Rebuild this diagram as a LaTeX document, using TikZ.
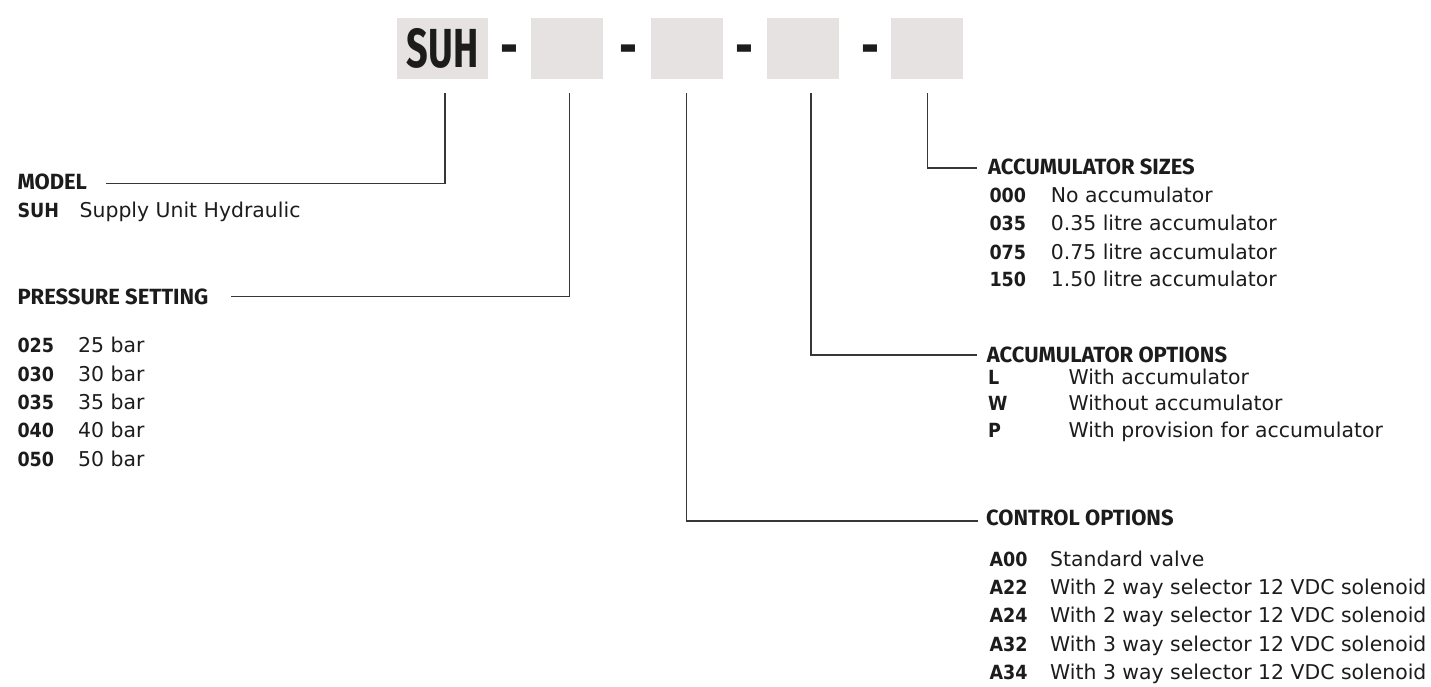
\documentclass[tikz,border=0pt]{standalone}
\usepackage{fontspec}
\setmainfont{DejaVu Sans}
\newfontfamily\codefont{DejaVu Sans Condensed}
\newfontfamily\headfont{Fira Sans}
\definecolor{boxc}{RGB}{229,226,225}
\definecolor{txt}{RGB}{28,28,28}
\definecolor{linec}{RGB}{55,55,55}
\tikzset{
  conn/.style={draw=linec, line width=1.5pt},
  head/.style={anchor=base west, inner sep=0pt, text=txt, font=\headfont\bfseries\fontsize{22}{26}\selectfont},
  code/.style={anchor=base west, inner sep=0pt, text=txt, font=\codefont\bfseries\fontsize{19.5}{24}\selectfont},
  desc/.style={anchor=base west, inner sep=0pt, text=txt, font=\fontsize{20.4}{24}\selectfont},
  slot/.style={fill=boxc, draw=none, anchor=north west, inner sep=0pt, minimum height=61pt, minimum width=72pt},
  title/.style={anchor=base, inner sep=0pt, text=txt, font=\headfont\bfseries\fontsize{55}{60}\selectfont},
}
\begin{document}
\begin{tikzpicture}[x=1pt,y=-1pt]
\useasboundingbox (0,0) rectangle (1431,686);
% code boxes
\node[slot, minimum width=91pt] (b1) at (397,18) {};
\node[slot] (b2) at (530.6,18) {};
\node[slot] (b3) at (650.5,18) {};
\node[slot] (b4) at (766.3,18) {};
\node[slot] (b5) at (891.2,18) {};
\node[title] (suh) at (442.5,67.6) {\scalebox{0.69}[1]{SUH}};
\node[title] (d1) at (509,67.6) {\scalebox{0.8}[1.1]{-}};
\node[title] (d2) at (628,67.6) {\scalebox{0.8}[1.1]{-}};
\node[title] (d3) at (744,67.6) {\scalebox{0.8}[1.1]{-}};
\node[title] (d4) at (870,67.6) {\scalebox{0.8}[1.1]{-}};
% connector coordinates
\coordinate (s1) at (445,93);
\coordinate (s2) at (569.5,93);
\coordinate (s3) at (686.5,93);
\coordinate (s4) at (811,93);
\coordinate (s5) at (927.5,93);
\coordinate (e1) at (106,183.3);
\coordinate (e2) at (230.7,296.7);
\coordinate (e3) at (977.7,521);
\coordinate (e4) at (977,355);
\coordinate (e5) at (977,168);
\draw[conn] (s1) |- (e1);
\draw[conn] (s2) |- (e2);
\draw[conn] (s3) |- (e3);
\draw[conn] (s4) |- (e4);
\draw[conn] (s5) |- (e5);
% MODEL
\node[head] (hmodel) at (17.3,189.3) {MODEL};
\node[code] (cSUH) at (17.3,217.7) {SUH};
\node[desc] (dSUH) at (79.5,217.7) {Supply Unit Hydraulic};
% PRESSURE SETTING
\node[head] (hpress) at (17.3,304.3) {PRESSURE SETTING};
\node[code] (p1) at (17.3,352.7) {025};
\node[desc] (q1) at (78,352.7) {25 bar};
\node[code] (p2) at (17.3,381) {030};
\node[desc] (q2) at (78,381) {30 bar};
\node[code] (p3) at (17.3,409.3) {035};
\node[desc] (q3) at (78,409.3) {35 bar};
\node[code] (p4) at (17.3,437.7) {040};
\node[desc] (q4) at (78,437.7) {40 bar};
\node[code] (p5) at (17.3,466) {050};
\node[desc] (q5) at (78,466) {50 bar};
% ACCUMULATOR SIZES
\node[head] (hsizes) at (988,174.5) {ACCUMULATOR SIZES};
\node[code] (a1) at (989.3,202.3) {000};
\node[desc] (t1) at (1050.7,202.3) {No accumulator};
\node[code] (a2) at (989.3,230.7) {035};
\node[desc] (t2) at (1050.7,230.7) {0.35 litre accumulator};
\node[code] (a3) at (989.3,259) {075};
\node[desc] (t3) at (1050.7,259) {0.75 litre accumulator};
\node[code] (a4) at (989.3,286.7) {150};
\node[desc] (t4) at (1050.7,286.7) {1.50 litre accumulator};
% ACCUMULATOR OPTIONS
\node[head] (hopt) at (986.7,362.3) {ACCUMULATOR OPTIONS};
\node[code] (o1) at (988,384.3) {L};
\node[desc] (u1) at (1068.3,384.3) {With accumulator};
\node[code] (o2) at (988,410.8) {W};
\node[desc] (u2) at (1068.3,410.8) {Without accumulator};
\node[code] (o3) at (988,437.3) {P};
\node[desc] (u3) at (1068.3,437.3) {With provision for accumulator};
% CONTROL OPTIONS
\node[head] (hctrl) at (986,525) {CONTROL OPTIONS};
\node[code] (c1) at (989.3,566) {A00};
\node[desc] (v1) at (1050,566) {Standard valve};
\node[code] (c2) at (989.3,594.3) {A22};
\node[desc] (v2) at (1050,594.3) {With 2 way selector 12 VDC solenoid};
\node[code] (c3) at (989.3,622.7) {A24};
\node[desc] (v3) at (1050,622.7) {With 2 way selector 12 VDC solenoid};
\node[code] (c4) at (989.3,651) {A32};
\node[desc] (v4) at (1050,651) {With 3 way selector 12 VDC solenoid};
\node[code] (c5) at (989.3,679.3) {A34};
\node[desc] (v5) at (1050,679.3) {With 3 way selector 12 VDC solenoid};
\end{tikzpicture}
\end{document}
